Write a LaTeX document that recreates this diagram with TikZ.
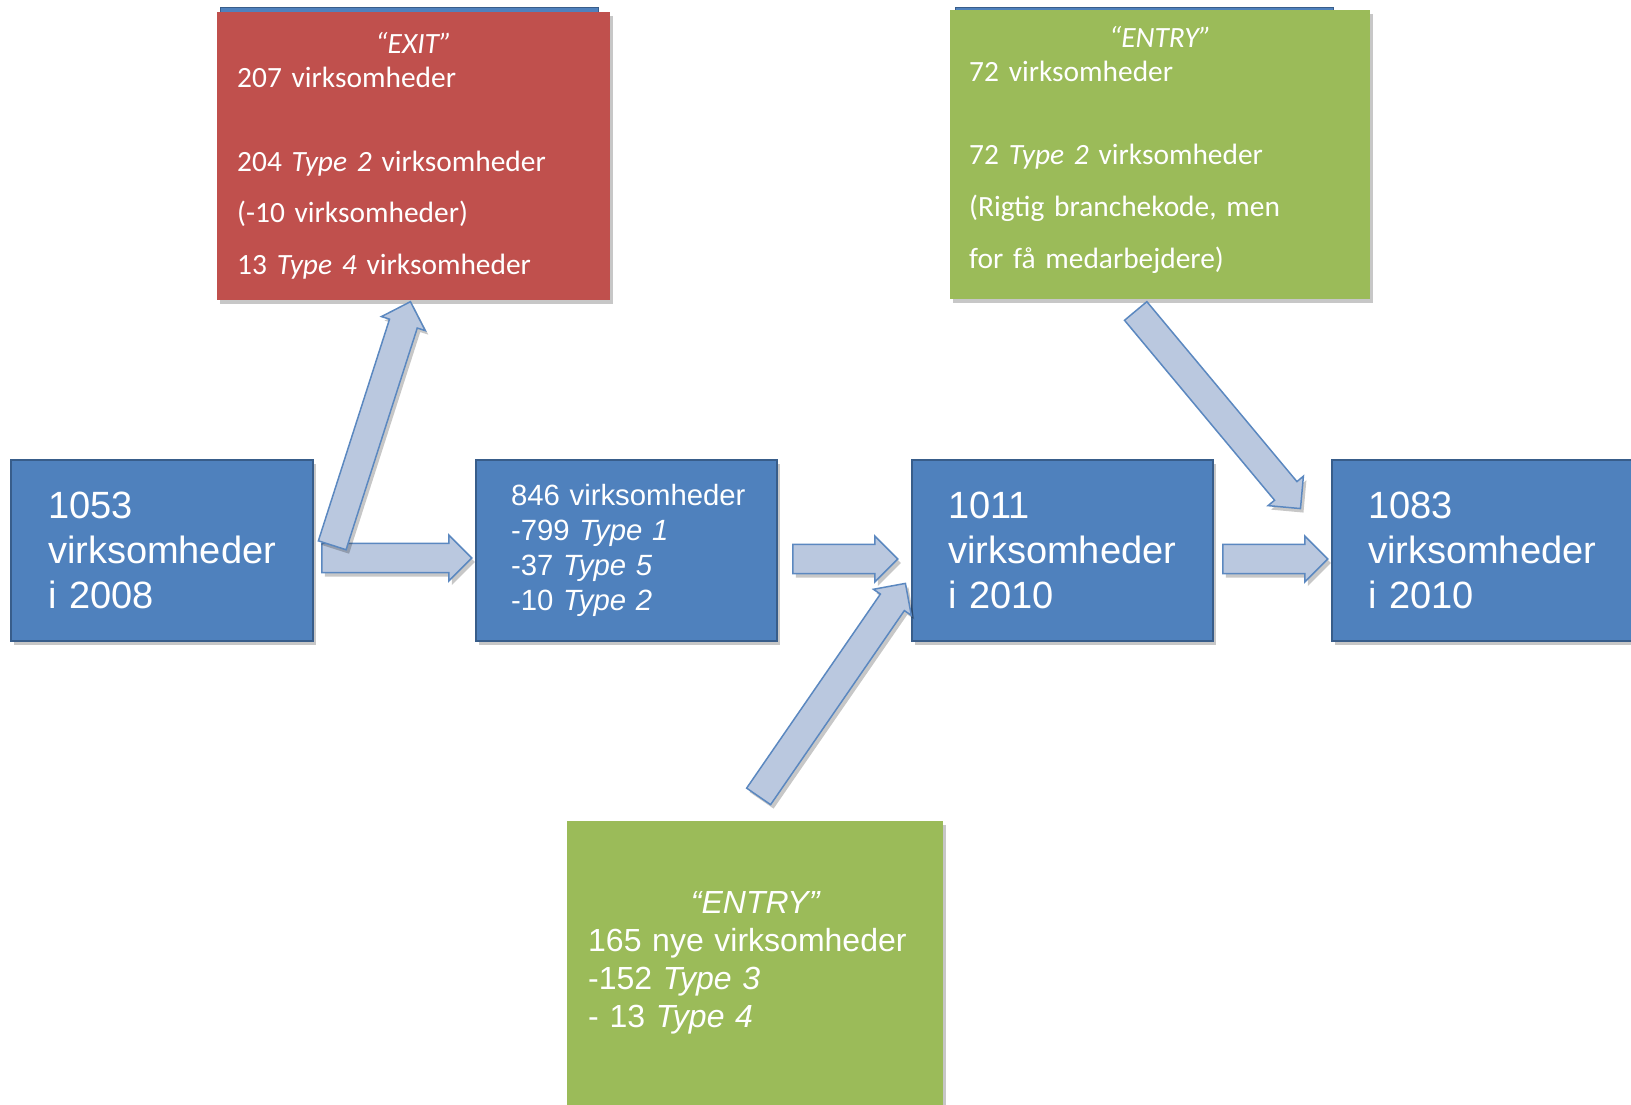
\documentclass[tikz,border=0pt]{standalone}
\usepackage{fontspec}
\setmainfont{Liberation Sans}
\newfontfamily\calfont[WordSpace=0.6]{Carlito}
\usetikzlibrary{shapes.arrows,calc,shadows}
\definecolor{blueF}{HTML}{4F81BD}
\definecolor{blueD}{HTML}{385D8A}
\definecolor{redF}{HTML}{C0504D}
\definecolor{greenF}{HTML}{9BBB59}
\definecolor{arrowF}{HTML}{BAC8DF}
\definecolor{arrowD}{HTML}{5B88C0}
\tikzset{
  shad/.style={drop shadow={shadow xshift=3pt,shadow yshift=-4pt,fill=black,opacity=0.22}},
  bluebox/.style={rectangle,draw=blueD,line width=2pt,fill=blueF,text=white,anchor=north west,align=left,shad},
  colbox/.style={rectangle,anchor=north west,text=white,align=left,shad},
  barrow/.style={single arrow,draw=arrowD,fill=arrowF,line width=1.5pt,minimum width=46pt,
    inner sep=11.5pt,single arrow tip angle=90,shad}
}
\newcommand{\blockarrow}[3]{%
  \path let \p1=(#2), \p2=(#3), \n1={veclen(\x2-\x1,\y2-\y1)}, \n2={atan2(\y2-\y1,\x2-\x1)} in
    node[barrow,minimum height=\n1,rotate=\n2,anchor=tail] (#1) at (#2) {};}
\begin{document}
\begin{tikzpicture}[x=1pt,y=-1pt]
\useasboundingbox (0,0) rectangle (1631,1105);
% blue strips peeking behind top boxes
\node[rectangle,fill=blueF,draw=blueD,line width=1pt,anchor=north west,minimum width=378pt,minimum height=30pt,inner sep=0pt] (exitbg) at (220,7) {};
\node[rectangle,fill=blueF,draw=blueD,line width=1pt,anchor=north west,minimum width=378pt,minimum height=30pt,inner sep=0pt] (entrybg) at (955,7) {};
% main boxes
\node[bluebox,minimum width=302pt,minimum height=181pt,inner xsep=37pt,text width=228pt,
  font=\fontsize{38}{45}\selectfont] (A) at (10,459) {1053\\\mbox{virksomheder}\\i 2008};
\node[bluebox,minimum width=301pt,minimum height=181pt,inner xsep=35pt,text width=231pt,
  font=\fontsize{29.3}{35}\selectfont] (B) at (475,459)
  {\mbox{846 virksomheder}\\-799 \textit{Type 1}\\-37 \textit{Type 5}\\-10 \textit{Type 2}};
\node[bluebox,minimum width=301pt,minimum height=181pt,inner xsep=36pt,text width=229pt,
  font=\fontsize{38}{45}\selectfont] (C) at (911,459) {1011\\\mbox{virksomheder}\\i 2010};
\node[bluebox,minimum width=302pt,minimum height=181pt,inner xsep=36pt,text width=230pt,
  font=\fontsize{38}{45}\selectfont] (D) at (1331,459) {1083\\\mbox{virksomheder}\\i 2010};
% exit box
\node[colbox,fill=redF,minimum width=393pt,minimum height=288pt,inner xsep=20pt,text width=353pt,
  font=\calfont\fontsize{29.4}{34}\selectfont] (E) at (217,12)
  {\hbox to\hsize{\hss\itshape “EXIT”\hss}\\
   207 virksomheder\\[50pt]
   204 \textit{Type 2} virksomheder\\[17pt]
   (-10 virksomheder)\\[18pt]
   13 \textit{Type 4} virksomheder};
% entry box top
\node[colbox,fill=greenF,minimum width=420pt,minimum height=289pt,inner xsep=19pt,text width=382pt,
  font=\calfont\fontsize{29.4}{34}\selectfont] (G) at (950,10)
  {\hbox to\hsize{\hss\itshape “ENTRY”\hss}\\
   72 virksomheder\\[49pt]
   72 \textit{Type 2} virksomheder\\[18pt]
   (Rigtig branchekode, men\\[18pt]
   for få medarbejdere)\rule[-14pt]{0pt}{1pt}};
% entry box bottom
\node[colbox,fill=greenF,minimum width=376pt,minimum height=284pt,inner xsep=21pt,text width=334pt,
  font=\fontsize{32}{38}\selectfont] (H) at (567,821)
  {\hbox to\hsize{\hss\itshape “ENTRY”\hss}\\
   165 nye virksomheder\\
   -152 \textit{Type 3}\\
   - 13 \textit{Type 4}};
% arrow end points
\coordinate (t1) at ($(A.east)+(7,7.5)$);
\coordinate (h1) at ($(B.west)+(-4,7.5)$);
\coordinate (t2) at ($(A.east)+(18,-4.5)$);
\coordinate (h2) at ($(E.south)+(-3.5,2)$);
\coordinate (t3) at ($(B.east)+(14,8.5)$);
\coordinate (h3) at ($(C.west)+(-14,8.5)$);
\coordinate (t4) at ($(H.north)+(3,-24)$);
\coordinate (h4) at ($(C.west)+(-6,33.5)$);
\coordinate (t5) at ($(C.east)+(8,8.5)$);
\coordinate (h5) at ($(D.west)+(-4,8.5)$);
\coordinate (t6) at ($(G.south)+(-25,11)$);
\coordinate (h6) at ($(D.north west)+(-31,49)$);
\blockarrow{a1}{t1}{h1}
\blockarrow{a2}{t2}{h2}
\blockarrow{a3}{t3}{h3}
\blockarrow{a4}{t4}{h4}
\blockarrow{a5}{t5}{h5}
\blockarrow{a6}{t6}{h6}
\end{tikzpicture}
\end{document}
